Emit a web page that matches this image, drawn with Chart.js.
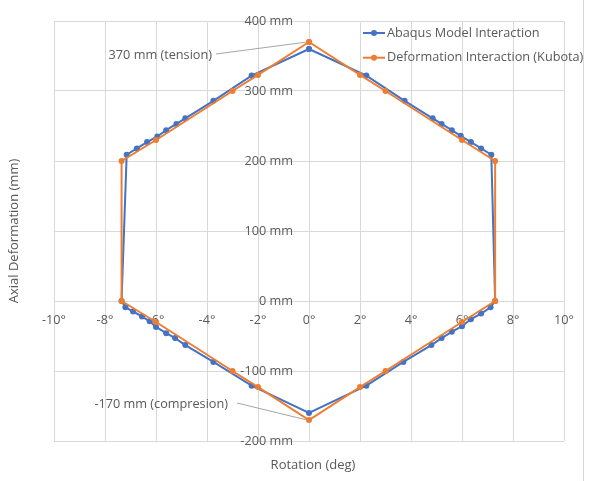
<!DOCTYPE html>
<html>
<head>
<meta charset="utf-8">
<script src="https://cdn.jsdelivr.net/npm/chart.js@4/dist/chart.umd.min.js"></script>
<style>
  html, body { margin: 0; padding: 0; background: #ffffff; }
  #wrap { position: relative; width: 596px; height: 481px; }
  canvas { display: block; }
</style>
</head>
<body>
<div id="wrap"><canvas id="chart" width="596" height="481"></canvas></div>
<script>
// Series names
const seriesNames = ['Abaqus Model Interaction', 'Deformation Interaction (Kubota)'];

// Abaqus model interaction curve (rotation in degrees, axial deformation in mm)
const abaqusRotation = [0, -2.25, -3.75, -4.85, -5.2, -5.6, -5.95, -6.35, -6.75, -7.15,
  -7.35, -7.2, -6.9, -6.55, -6.25, -6.0, -5.6, -5.25, -4.85, -3.75, -2.25,
  0, 2.25, 3.7, 4.8, 5.2, 5.6, 6.0, 6.35, 6.75, 7.12,
  7.3, 7.15, 6.75, 6.35, 5.95, 5.6, 5.2, 4.85, 3.75, 2.25, 0];
const abaqusAxial = [360, 322, 286, 261, 253, 244, 235, 227, 218, 209,
  0, -9, -15, -22, -29, -37, -46, -53, -63, -87, -121,
  -160, -121, -87, -63, -53, -44, -36, -26, -18, -9,
  0, 209, 218, 227, 236, 244, 253, 261, 286, 322, 360];

// Kubota deformation interaction curve
const kubotaRotation = [0, -2, -3, -6, -7.35, -7.35, -6, -3, -2, 0, 2, 3, 6, 7.3, 7.3, 6, 3, 2, 0];
const kubotaAxial = [370, 323, 300, 230, 200, 0, -30, -100, -123, -170, -123, -100, -30, 0, 200, 230, 300, 323, 370];

// Axis ranges and tick steps
const rotationRange = [-10, 10];
const rotationStep = 2;
const axialRange = [-200, 400];
const axialStep = 100;

// Axis titles
const rotationTitle = 'Rotation (deg)';
const axialTitle = 'Axial Deformation (mm)';

// Callouts: which point of which series, and the word after the value
const calloutSeries = [1, 1];
const calloutIndex = [0, 9];
const calloutWords = ['(tension)', '(compresion)'];

const colors = ['#4472C4', '#ED7D31'];
const textColor = '#595959';
const gridColor = '#d9d9d9';
const fontFamily = '"Open Sans", "Noto Sans", sans-serif';
const fontSize = 12.7;

function toPoints(xs, ys) {
  return xs.map((x, i) => ({ x: x, y: ys[i] }));
}

// Axial tick labels sit just left of the vertical axis (which crosses at 0°)
const axialLabels = {
  id: 'axialLabels',
  afterDatasetsDraw(chart) {
    const ctx = chart.ctx;
    const xs = chart.scales.x, ys = chart.scales.y;
    const axisX = xs.getPixelForValue(0);
    ctx.save();
    ctx.fillStyle = textColor;
    ctx.font = fontSize + 'px ' + fontFamily;
    ctx.textAlign = 'right';
    ctx.textBaseline = 'middle';
    ys.ticks.forEach((t) => {
      ctx.fillText(t.value + ' mm', axisX - 16, ys.getPixelForValue(t.value));
    });
    ctx.restore();
  }
};

// Titles, callouts, legend and frame
const decorations = {
  id: 'decorations',
  afterDraw(chart) {
    const ctx = chart.ctx;
    const area = chart.chartArea;
    const xs = chart.scales.x, ys = chart.scales.y;
    ctx.save();

    // outer frame edge
    ctx.strokeStyle = gridColor;
    ctx.lineWidth = 1;
    ctx.beginPath();
    ctx.moveTo(583.5, 0);
    ctx.lineTo(583.5, chart.height);
    ctx.stroke();

    ctx.fillStyle = textColor;
    ctx.font = '13px ' + fontFamily;

    // axis titles
    ctx.textAlign = 'center';
    ctx.textBaseline = 'middle';
    ctx.fillText(rotationTitle, (area.left + area.right) / 2 + 4, area.bottom + 24);
    ctx.save();
    ctx.translate(14, (area.top + area.bottom) / 2);
    ctx.rotate(-Math.PI / 2);
    ctx.fillText(axialTitle, 0, 0);
    ctx.restore();

    ctx.font = fontSize + 'px ' + fontFamily;

    // callouts with leader lines
    const offsets = [{ dx: -91, dy: 12, gap: 4 }, { dx: -70, dy: -17, gap: 9 }];
    calloutSeries.forEach((s, k) => {
      const pt = chart.data.datasets[s].data[calloutIndex[k]];
      const px = xs.getPixelForValue(pt.x) - 2;
      const py = ys.getPixelForValue(pt.y);
      const o = offsets[k];
      ctx.strokeStyle = '#a6a6a6';
      ctx.lineWidth = 1;
      ctx.beginPath();
      ctx.moveTo(px + o.dx, py + o.dy);
      ctx.lineTo(px, py);
      ctx.stroke();
      ctx.fillStyle = textColor;
      ctx.textAlign = 'right';
      ctx.textBaseline = 'middle';
      ctx.fillText(pt.y + ' mm ' + calloutWords[k], px + o.dx - o.gap, py + o.dy + 1);
    });

    // legend
    const lx = 363, ly = 33, rowH = 24.7;
    chart.data.datasets.forEach((ds, i) => {
      const y = ly + i * rowH;
      ctx.strokeStyle = ds.borderColor;
      ctx.lineWidth = 2;
      ctx.beginPath();
      ctx.moveTo(lx, y);
      ctx.lineTo(lx + 22, y);
      ctx.stroke();
      ctx.fillStyle = ds.backgroundColor;
      ctx.beginPath();
      ctx.arc(lx + 11, y, 3, 0, Math.PI * 2);
      ctx.fill();
      ctx.fillStyle = textColor;
      ctx.textAlign = 'left';
      ctx.textBaseline = 'middle';
      ctx.fillText(ds.label, lx + 24, y);
    });
    ctx.restore();
  }
};

new Chart(document.getElementById('chart'), {
  type: 'scatter',
  data: {
    datasets: [
      {
        label: seriesNames[0],
        data: toPoints(abaqusRotation, abaqusAxial),
        showLine: true,
        borderColor: colors[0],
        backgroundColor: colors[0],
        borderWidth: 2,
        pointRadius: 3,
        pointBorderWidth: 0,
        order: 1
      },
      {
        label: seriesNames[1],
        data: toPoints(kubotaRotation, kubotaAxial),
        showLine: true,
        borderColor: colors[1],
        backgroundColor: colors[1],
        borderWidth: 2,
        pointRadius: 3,
        pointBorderWidth: 0,
        order: 0
      }
    ]
  },
  options: {
    responsive: false,
    animation: false,
    devicePixelRatio: 1,
    layout: { padding: { left: 54, right: 32, top: 21, bottom: 40 } },
    plugins: { legend: { display: false }, tooltip: { enabled: false } },
    scales: {
      x: {
        type: 'linear',
        min: rotationRange[0],
        max: rotationRange[1],
        position: { y: 0 },
        grid: { color: gridColor, drawTicks: false },
        border: { color: gridColor },
        ticks: {
          stepSize: rotationStep,
          padding: 12,
          color: textColor,
          font: { family: fontFamily, size: fontSize },
          callback: (v) => v + '°'
        }
      },
      y: {
        type: 'linear',
        min: axialRange[0],
        max: axialRange[1],
        position: { x: 0 },
        grid: { color: gridColor, drawTicks: false },
        border: { color: gridColor },
        ticks: {
          stepSize: axialStep,
          display: false
        }
      }
    }
  },
  plugins: [axialLabels, decorations]
});
</script>
</body>
</html>
